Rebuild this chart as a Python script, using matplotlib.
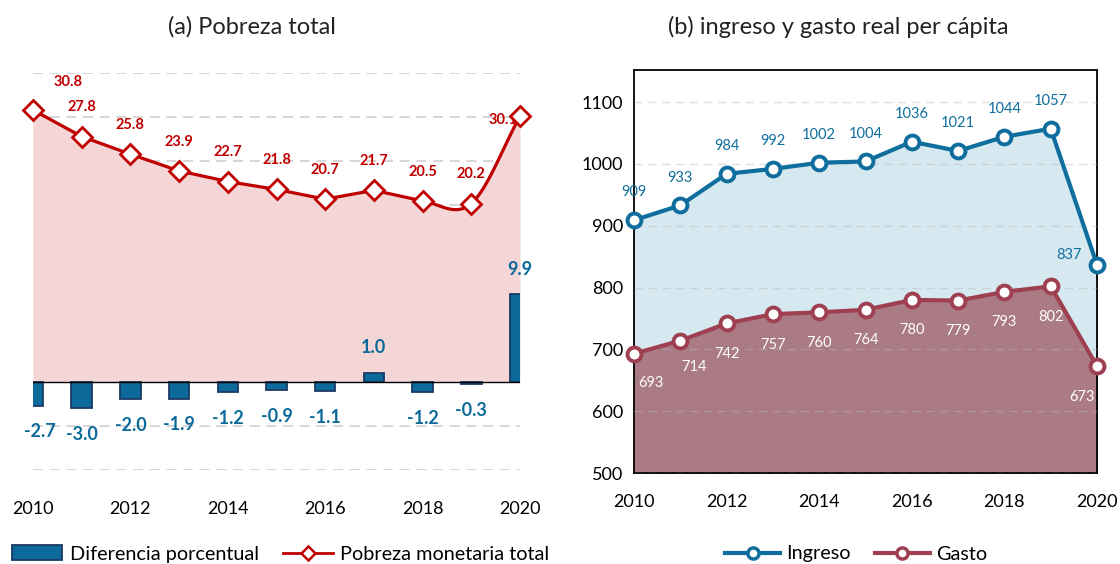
import matplotlib
matplotlib.use("Agg")
import matplotlib.pyplot as plt
import numpy as np
from matplotlib.lines import Line2D
from matplotlib.patches import Patch

# ---------------- data ----------------
years = list(range(2010, 2021))
pobreza = [30.8, 27.8, 25.8, 23.9, 22.7, 21.8, 20.7, 21.7, 20.5, 20.2, 30.1]
diferencia = [-2.7, -3.0, -2.0, -1.9, -1.2, -0.9, -1.1, 1.0, -1.2, -0.3, 9.9]
ingreso = [909, 933, 984, 992, 1002, 1004, 1036, 1021, 1044, 1057, 837]
gasto = [693, 714, 742, 757, 760, 764, 780, 779, 793, 802, 673]
title_a = "(a) Pobreza total"
title_b = "(b) ingreso y gasto real per cápita"

FONT = ["Lato", "DejaVu Sans"]
plt.rcParams["font.family"] = FONT

RED = "#C00000"
PINK = "#F4D6D7"
BAR = "#0B6A9A"
BAR_EDGE = "#1B3A66"
BLUE = "#0F6E9E"
BLUE_FILL = "#D7E9F0"
MAROON = "#9E4052"
MAROON_FILL = "#AA7A85"
GRID = "#D0D0D0"


def smooth_path(x, y, smooth_from):
    """Straight segments, Hermite-smoothed segments from index smooth_from."""
    x = np.asarray(x, float)
    y = np.asarray(y, float)
    n = len(x)
    tang = np.zeros(n)
    for i in range(n):
        if i == 0:
            tang[i] = y[1] - y[0]
        elif i == n - 1:
            tang[i] = y[-1] - y[-2]
        else:
            tang[i] = (y[i + 1] - y[i - 1]) / 2
    xs, ys = [x[0]], [y[0]]
    for i in range(n - 1):
        if i >= smooth_from:
            t = np.linspace(0, 1, 40)[1:]
            h00 = 2 * t**3 - 3 * t**2 + 1
            h10 = t**3 - 2 * t**2 + t
            h01 = -2 * t**3 + 3 * t**2
            h11 = t**3 - t**2
            yy = h00 * y[i] + h10 * tang[i] + h01 * y[i + 1] + h11 * tang[i + 1]
            xx = x[i] + t * (x[i + 1] - x[i])
            xs.extend(xx)
            ys.extend(yy)
        else:
            xs.append(x[i + 1])
            ys.append(y[i + 1])
    return np.array(xs), np.array(ys)


fig = plt.figure(figsize=(11.2, 5.64), dpi=100)

# ---------------- (a) ----------------
ax1 = fig.add_axes([33 / 1120, 94 / 564, 487 / 1120, 397 / 564])
ax1.set_xlim(2010, 2020)
ax1.set_ylim(-10, 35)
for s in ax1.spines.values():
    s.set_visible(False)
ax1.set_yticks(np.arange(-10, 36, 5))
ax1.tick_params(axis="y", left=False, labelleft=False)
ax1.tick_params(axis="x", bottom=False, labelsize=13, pad=19)
ax1.set_xticks(range(2010, 2021, 2))
ax1.yaxis.grid(True, color=GRID, linestyle=(0, (6, 4)), linewidth=1.2, zorder=0)
ax1.set_axisbelow(True)

sx, sy = smooth_path(years, pobreza, 8)
ax1.fill_between(sx, sy, 0, color=PINK, zorder=1, linewidth=0)
ax1.bar(years, diferencia, width=0.42, color=BAR, edgecolor=BAR_EDGE,
        linewidth=1.3, zorder=3)
ax1.axhline(0, color="black", linewidth=1.0, zorder=4)
ax1.plot(sx, sy, color=RED, linewidth=2.3, zorder=5, solid_capstyle="round")
ax1.plot(years, pobreza, linestyle="none", marker="D", markersize=10,
         markerfacecolor="white", markeredgecolor=RED, markeredgewidth=2.0,
         zorder=6, clip_on=False)

for i, (yr, v) in enumerate(zip(years, pobreza)):
    if i == 0:
        off = (25, 20)
    elif i == len(years) - 1:
        off = (-12, -3)
    else:
        off = (0, 21)
    ax1.annotate(f"{v:.1f}", (yr, v), xytext=off, textcoords="offset points",
                 ha="center", va="center", color=RED, fontsize=10.5,
                 fontweight="bold", zorder=5)

for i, (yr, v) in enumerate(zip(years, diferencia)):
    dy = 18 if v >= 0 else -19
    dx = 5 if i == 0 else 0
    ax1.annotate(f"{v:.1f}", (yr, v), xytext=(dx, dy), textcoords="offset points",
                 ha="center", va="center", color=BAR, fontsize=13,
                 fontweight="bold", zorder=7, annotation_clip=False)

fig.text(252 / 1120, 1 - 27 / 564, title_a, ha="center", va="center",
         fontsize=17, color="#222222")

h_bar = Patch(facecolor=BAR, edgecolor=BAR_EDGE, linewidth=1.3)
h_line = Line2D([], [], color=RED, linewidth=2.0, marker="D", markersize=7,
                markerfacecolor="white", markeredgecolor=RED, markeredgewidth=1.8)
fig.legend([h_bar, h_line], ["Diferencia porcentual", "Pobreza monetaria total"],
           loc="center", bbox_to_anchor=(281 / 1120, 10 / 564), ncol=2,
           frameon=False, fontsize=14.3, handlelength=2.5, handleheight=0.8,
           columnspacing=1.2, handletextpad=0.4, borderaxespad=0)

# ---------------- (b) ----------------
ax2 = fig.add_axes([634 / 1120, 91 / 564, 463 / 1120, 403 / 564])
ax2.set_xlim(2010, 2020)
ax2.set_ylim(500, 1152)
for s in ax2.spines.values():
    s.set_visible(True)
    s.set_color("black")
    s.set_linewidth(1.3)
ax2.set_yticks(range(500, 1101, 100))
ax2.set_xticks(range(2010, 2021, 2))
ax2.tick_params(axis="both", length=0, labelsize=13)
ax2.tick_params(axis="x", pad=15)
ax2.tick_params(axis="y", pad=8)

ax2.fill_between(years, ingreso, 500, color=BLUE_FILL, linewidth=0, zorder=1)
ax2.fill_between(years, gasto, 500, color=MAROON_FILL, linewidth=0, zorder=2)
ax2.yaxis.grid(True, color="#B8B8B8", alpha=0.45, linestyle=(0, (6, 4)),
               linewidth=1.0, zorder=3)
ax2.set_axisbelow(False)
for gl in ax2.get_ygridlines():
    gl.set_zorder(3)

ax2.plot(years, ingreso, color=BLUE, linewidth=3.0, marker="o", markersize=10,
         markerfacecolor="white", markeredgecolor=BLUE, markeredgewidth=2.8,
         zorder=5, clip_on=False)
ax2.plot(years, gasto, color=MAROON, linewidth=3.0, marker="o", markersize=10,
         markerfacecolor="white", markeredgecolor=MAROON, markeredgewidth=2.8,
         zorder=5, clip_on=False)

for i, (yr, v) in enumerate(zip(years, ingreso)):
    if i == len(years) - 1:
        off = (-20, 7)
    else:
        off = (0, 20)
    ax2.annotate(f"{v}", (yr, v), xytext=off, textcoords="offset points",
                 ha="center", va="center", color=BLUE, fontsize=10.5, zorder=6,
                 annotation_clip=False)

for i, (yr, v) in enumerate(zip(years, gasto)):
    if i == 0:
        off = (12, -21)
    elif i == 1:
        off = (10, -19)
    elif i == len(years) - 1:
        off = (-11, -22)
    else:
        off = (0, -22)
    ax2.annotate(f"{v}", (yr, v), xytext=off, textcoords="offset points",
                 ha="center", va="center", color="white", fontsize=10.5,
                 zorder=6, annotation_clip=False)

fig.text(838 / 1120, 1 - 27 / 564, title_b, ha="center", va="center",
         fontsize=17, color="#222222")

h_in = Line2D([], [], color=BLUE, linewidth=3.0, marker="o", markersize=8,
              markerfacecolor="white", markeredgecolor=BLUE, markeredgewidth=2.5)
h_ga = Line2D([], [], color=MAROON, linewidth=3.0, marker="o", markersize=8,
              markerfacecolor="white", markeredgecolor=MAROON, markeredgewidth=2.5)
fig.legend([h_in, h_ga], ["Ingreso", "Gasto"], loc="center",
           bbox_to_anchor=(856 / 1120, 10 / 564), ncol=2, frameon=False,
           fontsize=14.3, handlelength=2.8, columnspacing=1.2, handletextpad=0.3,
           borderaxespad=0)

fig.savefig("out.png", dpi=100)
